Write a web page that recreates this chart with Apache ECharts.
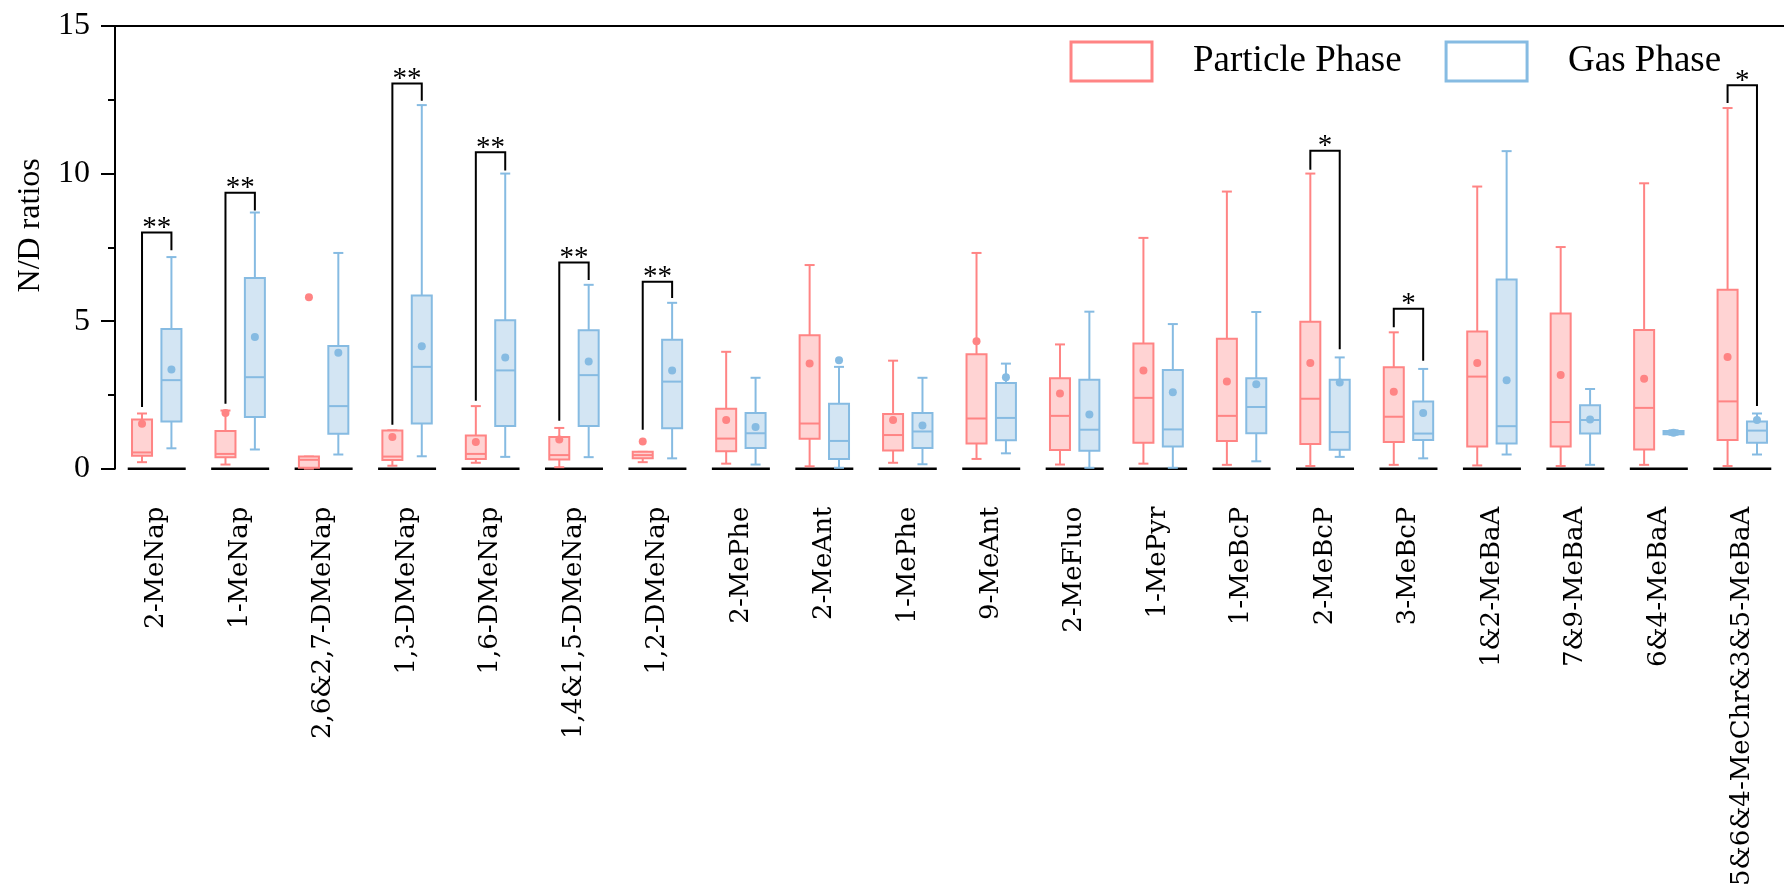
<!DOCTYPE html>
<html lang="en">
<head>
    <meta charset="UTF-8">
    <title>N/D ratios</title>
    <script src="https://cdn.jsdelivr.net/npm/echarts@6/dist/echarts.min.js"></script>
    <style>
        html, body { margin: 0; padding: 0; background: #fff; }
    </style>
</head>
<body>
    <div id="main" style="width:1784px;height:889px;"></div>
    <script>
        // 化合物名称
        var categories = ['2-MeNap', '1-MeNap', '2,6&2,7-DMeNap', '1,3-DMeNap', '1,6-DMeNap',
            '1,4&1,5-DMeNap', '1,2-DMeNap', '2-MePhe', '2-MeAnt', '1-MePhe', '9-MeAnt',
            '2-MeFluo', '1-MePyr', '1-MeBcP', '2-MeBcP', '3-MeBcP', '1&2-MeBaA',
            '7&9-MeBaA', '6&4-MeBaA', '5&6&4-MeChr&3&5-MeBaA'];

        // 颗粒相 [min, Q1, median, Q3, max]
        var particleBox = [
            [0.22, 0.44, 0.55, 1.67, 1.87],
            [0.14, 0.39, 0.50, 1.28, 1.97],
            [0.00, 0.03, 0.30, 0.41, 0.41],
            [0.10, 0.29, 0.41, 1.29, 1.30],
            [0.20, 0.33, 0.50, 1.12, 2.12],
            [0.05, 0.31, 0.46, 1.07, 1.38],
            [0.22, 0.35, 0.46, 0.57, 0.57],
            [0.17, 0.59, 1.02, 2.03, 3.96],
            [0.08, 1.01, 1.53, 4.52, 6.90],
            [0.20, 0.62, 1.14, 1.85, 3.66],
            [0.33, 0.85, 1.70, 3.88, 7.31],
            [0.14, 0.63, 1.79, 3.06, 4.21],
            [0.17, 0.88, 2.40, 4.24, 7.82],
            [0.13, 0.94, 1.79, 4.40, 9.39],
            [0.09, 0.84, 2.37, 4.98, 10.00],
            [0.13, 0.90, 1.76, 3.44, 4.62],
            [0.11, 0.75, 3.12, 4.65, 9.56],
            [0.09, 0.75, 1.58, 5.26, 7.51],
            [0.13, 0.65, 2.06, 4.70, 9.67],
            [0.09, 0.97, 2.28, 6.06, 12.22]
        ];
        var particleMean = [1.52, 1.89, 5.81, 1.07, 0.90, 0.99, 0.92, 1.65, 3.56, 1.65,
            4.32, 2.55, 3.33, 2.95, 3.58, 2.61, 3.58, 3.17, 3.05, 3.78];

        // 气相 [min, Q1, median, Q3, max]
        var gasBox = [
            [0.69, 1.60, 3.00, 4.73, 7.17],
            [0.65, 1.75, 3.10, 6.46, 8.68],
            [0.48, 1.18, 2.12, 4.16, 7.31],
            [0.42, 1.53, 3.45, 5.87, 12.32],
            [0.40, 1.45, 3.33, 5.03, 10.00],
            [0.39, 1.45, 3.17, 4.69, 6.23],
            [0.35, 1.37, 2.95, 4.37, 5.62],
            [0.14, 0.70, 1.20, 1.89, 3.08],
            [0.03, 0.33, 0.94, 2.20, 3.45],
            [0.15, 0.70, 1.26, 1.89, 3.08],
            [0.52, 0.96, 1.72, 2.90, 3.56],
            [0.03, 0.61, 1.32, 3.01, 5.32],
            [0.03, 0.75, 1.33, 3.34, 4.90],
            [0.25, 1.20, 2.09, 3.06, 5.31],
            [0.40, 0.64, 1.24, 3.01, 3.77],
            [0.35, 0.97, 1.19, 2.28, 3.38],
            [0.48, 0.85, 1.44, 6.41, 10.76],
            [0.13, 1.19, 1.65, 2.15, 2.70],
            [1.15, 1.17, 1.22, 1.28, 1.30],
            [0.48, 0.88, 1.29, 1.60, 1.87]
        ];
        var gasMean = [3.36, 4.46, 3.93, 4.15, 3.77, 3.63, 3.33, 1.41, 3.67, 1.46,
            3.10, 1.84, 2.59, 2.86, 2.92, 1.89, 3.00, 1.67, 1.22, 1.65];

        // 显著性标记 [类别序号, 左端底, 顶, 右端底, 星号]
        var sigBrackets = [
            [0, 2.09, 8.00, 7.40, '**'],
            [1, 2.20, 9.35, 8.75, '**'],
            [3, 1.49, 13.05, 12.47, '**'],
            [4, 2.30, 10.72, 10.10, '**'],
            [5, 1.62, 6.99, 6.39, '**'],
            [6, 1.32, 6.33, 5.78, '**'],
            [14, 10.13, 10.77, 4.05, '*'],
            [15, 4.79, 5.42, 3.66, '*'],
            [19, 12.39, 12.99, 2.12, '*']
        ];

        var yTicks = [0, 5, 10, 15];

        var pinkLine = '#FF8484', pinkFill = '#FFD3D3';
        var blueLine = '#86BBE2', blueFill = '#D3E5F3';
        var OFFSET = 14.7;

        function boxRenderer(offset, stroke, fill) {
            return function (params, api) {
                var c = api.value(0);
                var x = api.coord([c, 0])[0] + offset;
                var yLow = api.coord([c, api.value(1)])[1];
                var yQ1 = api.coord([c, api.value(2)])[1];
                var yMed = api.coord([c, api.value(3)])[1];
                var yQ3 = api.coord([c, api.value(4)])[1];
                var yHigh = api.coord([c, api.value(5)])[1];
                var hw = 10, cw = 5;
                var ls = { stroke: stroke, lineWidth: 2 };
                return {
                    type: 'group',
                    children: [
                        { type: 'line', shape: { x1: x, y1: yQ3, x2: x, y2: yHigh }, style: ls },
                        { type: 'line', shape: { x1: x - cw, y1: yHigh, x2: x + cw, y2: yHigh }, style: ls },
                        { type: 'line', shape: { x1: x, y1: yQ1, x2: x, y2: yLow }, style: ls },
                        { type: 'line', shape: { x1: x - cw, y1: yLow, x2: x + cw, y2: yLow }, style: ls },
                        { type: 'rect', shape: { x: x - hw, y: yQ3, width: hw * 2, height: Math.max(yQ1 - yQ3, 1) },
                          style: { fill: fill, stroke: stroke, lineWidth: 2 } },
                        { type: 'line', shape: { x1: x - hw, y1: yMed, x2: x + hw, y2: yMed }, style: ls }
                    ]
                };
            };
        }

        var chart = echarts.init(document.getElementById('main'));

        var option = {
            animation: false,
            backgroundColor: '#fff',
            textStyle: { fontFamily: 'Liberation Serif' },
            grid: { left: 115, top: 26, width: 1680, height: 454 },
            legend: {
                left: 1069.5, top: 40.5, padding: 0,
                itemWidth: 81, itemHeight: 39, itemGap: 43,
                textStyle: { fontSize: 37, fontFamily: 'Liberation Serif', color: '#000', padding: [0, 0, 0, 36] },
                data: [
                    { name: 'Particle Phase', icon: 'rect',
                      itemStyle: { color: 'rgba(255,255,255,0)', borderColor: pinkLine, borderWidth: 3 } },
                    { name: 'Gas Phase', icon: 'rect',
                      itemStyle: { color: 'rgba(255,255,255,0)', borderColor: blueLine, borderWidth: 3 } }
                ]
            },
            xAxis: [{
                type: 'category',
                data: categories,
                axisLine: { show: false },
                axisTick: { show: false },
                axisLabel: {
                    interval: 0, rotate: 90, margin: 38,
                    fontSize: 26, fontFamily: 'DejaVu Serif', color: '#000'
                }
            }, {
                type: 'category',
                position: 'top',
                data: categories,
                axisLine: { show: true, lineStyle: { color: '#000', width: 2 } },
                axisTick: { show: false },
                axisLabel: { show: false }
            }],
            yAxis: {
                type: 'value',
                min: yTicks[0], max: yTicks[yTicks.length - 1], interval: 5,
                name: 'N/D ratios',
                nameLocation: 'middle',
                nameGap: 68,
                nameTextStyle: { fontSize: 32, fontFamily: 'Liberation Serif', color: '#000', padding: [0, 0, 0, 44] },
                axisLine: { show: true, lineStyle: { color: '#000', width: 2 } },
                axisTick: { show: true, inside: false, length: 14, lineStyle: { color: '#000', width: 2 } },
                minorTick: { show: true, splitNumber: 2, length: 7, lineStyle: { color: '#000', width: 2 } },
                splitLine: { show: false },
                axisLabel: { fontSize: 32, fontFamily: 'Liberation Serif', color: '#000', margin: 25 }
            },
            series: [
                {
                    // x 轴基线段
                    type: 'custom',
                    name: 'base',
                    silent: true,
                    data: categories.map(function (c, i) { return [i, 0]; }),
                    encode: { x: 0, y: 1 },
                    renderItem: function (params, api) {
                        var p = api.coord([api.value(0), 0]);
                        return { type: 'line', shape: { x1: p[0] - 29, y1: p[1], x2: p[0] + 29, y2: p[1] },
                                 style: { stroke: '#000', lineWidth: 2.5 } };
                    },
                    z: 1
                },
                {
                    type: 'custom',
                    name: 'Particle Phase',
                    itemStyle: { color: pinkLine },
                    data: particleBox.map(function (b, i) { return [i].concat(b); }),
                    encode: { x: 0, y: [1, 2, 3, 4, 5] },
                    renderItem: boxRenderer(-OFFSET, pinkLine, pinkFill),
                    z: 2
                },
                {
                    type: 'custom',
                    name: 'Gas Phase',
                    itemStyle: { color: blueLine },
                    data: gasBox.map(function (b, i) { return [i].concat(b); }),
                    encode: { x: 0, y: [1, 2, 3, 4, 5] },
                    renderItem: boxRenderer(OFFSET, blueLine, blueFill),
                    z: 2
                },
                {
                    type: 'scatter',
                    name: 'Particle mean',
                    symbol: 'circle', symbolSize: 8,
                    symbolOffset: [-OFFSET, 0],
                    itemStyle: { color: pinkLine, opacity: 1 },
                    data: particleMean.map(function (v, i) { return [i, v]; }),
                    z: 3
                },
                {
                    type: 'scatter',
                    name: 'Gas mean',
                    symbol: 'circle', symbolSize: 8,
                    symbolOffset: [OFFSET, 0],
                    itemStyle: { color: blueLine, opacity: 1 },
                    data: gasMean.map(function (v, i) { return [i, v]; }),
                    z: 3
                },
                {
                    // 显著性括号
                    type: 'custom',
                    name: 'sig',
                    silent: true,
                    data: sigBrackets,
                    encode: { x: 0, y: [1, 2, 3] },
                    renderItem: function (params, api) {
                        var c = api.value(0);
                        var xc = api.coord([c, 0])[0];
                        var xl = xc - OFFSET, xr = xc + OFFSET;
                        var yl = api.coord([c, api.value(1)])[1];
                        var yt = api.coord([c, api.value(2)])[1];
                        var yr = api.coord([c, api.value(3)])[1];
                        return {
                            type: 'group',
                            children: [
                                { type: 'polyline', shape: { points: [[xl, yl], [xl, yt], [xr, yt], [xr, yr]] },
                                  style: { stroke: '#000', lineWidth: 2, fill: null } },
                                { type: 'text', x: xc, y: yt - 4,
                                  style: { text: sigBrackets[params.dataIndex][4], fill: '#000',
                                           font: '29px "Liberation Serif"', align: 'center', verticalAlign: 'middle' } }
                            ]
                        };
                    },
                    z: 4
                }
            ]
        };

        chart.setOption(option);
    </script>
</body>
</html>
